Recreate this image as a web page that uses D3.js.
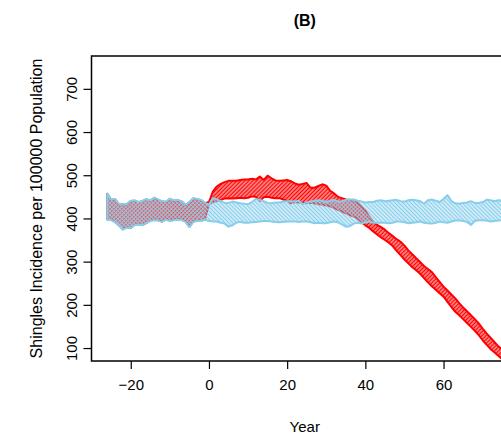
<!DOCTYPE html>
<html>
<head>
<meta charset="utf-8">
<script src="https://cdn.jsdelivr.net/npm/d3@7"></script>
<style>
  body { margin: 0; background: #fff; }
  svg text { font-family: "Liberation Sans", Arial, Helvetica, sans-serif; fill: #000; }
</style>
</head>
<body>
<svg id="chart" width="501" height="441"></svg>
<script>
  // data, one value per year from -26 to 75
  var YEARS = d3.range(-26, 76)

  var BLUE_HIGH = [
    458, 444, 445, 433, 433, 434, 441, 442, 438, 441, 445, 442, 448, 444, 440, 439, 446, 442, 443, 440, 432, 438, 447, 445, 443, 436, 432,
    447, 444, 440, 436, 436, 439, 437, 435, 434, 433, 438, 445, 443, 440, 436, 435, 437, 437, 439, 440, 440, 439, 441,
    433, 437, 439, 441, 442, 441, 438, 441, 443, 439, 440, 443, 444, 444, 441, 439, 437, 438, 438, 441, 442, 440, 441, 442, 443,
    440, 439, 442, 443, 442, 440, 434, 442, 444, 441, 438, 445, 454, 440, 435, 434, 436, 437, 440, 436, 436, 438, 443, 442, 440, 442, 441
  ]
  var BLUE_LOW = [
    397, 396, 391, 383, 374, 379, 377, 385, 386, 384, 389, 394, 396, 395, 392, 397, 394, 396, 397, 396, 392, 380, 392, 394, 394, 397, 394,
    393, 393, 390, 388, 381, 384, 390, 392, 390, 390, 391, 392, 393, 394, 394, 393, 392, 391, 392, 393, 393, 393, 392,
    393, 393, 391, 389, 390, 389, 389, 391, 393, 391, 386, 381, 382, 388, 390, 388, 391, 393, 390, 390, 390, 390, 389, 390, 393,
    393, 391, 389, 390, 391, 393, 390, 389, 388, 390, 393, 391, 390, 393, 395, 396, 394, 392, 385, 394, 396, 396, 395, 393, 394, 395, 396
  ]
  var RED_HIGH = [
    457, 443, 444, 432, 432, 433, 440, 441, 437, 440, 444, 441, 447, 443, 439, 438, 445, 441, 442, 439, 431, 437, 446, 444, 442, 435,
    438, 462, 474, 480, 484, 487, 487, 487, 489, 490, 490, 492, 490, 497, 489, 499, 493, 488, 487, 488, 489, 486, 481, 478, 480, 482, 471, 471, 475, 479,
    476, 464, 458, 450, 447, 444, 443, 441, 436, 428, 418, 404, 393, 385, 380, 374, 366, 359, 352, 346,
    337, 326, 317, 308, 299, 290, 283, 276, 264, 253, 242, 233, 224, 215, 204, 194, 185, 176, 167, 157,
    145, 134, 124, 114, 104, 96
  ]
  var RED_LOW = [
    398, 397, 392, 384, 375, 380, 378, 386, 387, 385, 390, 395, 397, 396, 393, 398, 395, 397, 398, 397, 393, 381, 393, 395, 395, 398,
    434, 438, 441, 443, 446, 447, 446, 447, 448, 447, 448, 451, 450, 440, 449, 450, 448, 447, 447, 444, 440, 435, 438, 437, 436,
    436, 436, 435, 433, 432, 430, 428, 424, 420, 416, 412, 408, 404, 400, 392, 384, 378, 370, 363, 356,
    350, 344, 336, 325, 315, 305, 296, 287, 280, 272, 262, 252, 243, 235, 227, 219, 207, 195, 184, 176,
    167, 158, 149, 140, 130, 118, 108, 98, 90, 82, 74
  ]

  var X_TICKS = [-20, 0, 20, 40, 60]
  var Y_TICKS = [100, 200, 300, 400, 500, 600, 700]

  // constants
  var RED = '#ff0000', BLUE = '#87ceeb'
  var PLOT = { left: 91.5, right: 518, top: 56, bottom: 361 }
  var FONT_SIZE = 15

  var svg = d3.select('#chart')

  var x = d3.scaleLinear().domain([-30.04, 79.04]).range([PLOT.left, PLOT.right])
  var y = d3.scaleLinear().domain([70, 776]).range([PLOT.bottom, PLOT.top])

  // hatch patterns, line centred in the tile so it is not cut in half
  var defs = svg.append('defs')
  function hatch (id, color, angle, gap, width) {
    defs.append('pattern')
      .attr('id', id)
      .attr('patternUnits', 'userSpaceOnUse')
      .attr('width', gap).attr('height', gap)
      .attr('patternTransform', 'rotate(' + angle + ')')
      .append('line')
      .attr('x1', gap / 2).attr('y1', -1).attr('x2', gap / 2).attr('y2', gap + 1)
      .attr('stroke', color)
      .attr('stroke-width', width)
  }
  hatch('hatch-red', RED, 45, 2.8, 1.9)
  hatch('hatch-blue', BLUE, -45, 2.8, 1.7)

  defs.append('clipPath').attr('id', 'plot-clip')
    .append('rect')
    .attr('x', PLOT.left).attr('y', PLOT.top)
    .attr('width', PLOT.right - PLOT.left).attr('height', PLOT.bottom - PLOT.top)

  function band (high, low) {
    var rows = YEARS.map(function (year, i) { return [year, low[i], high[i]] })
    return d3.area()
      .x(function (d) { return x(d[0]) })
      .y0(function (d) { return y(d[1]) })
      .y1(function (d) { return y(d[2]) })(rows)
  }

  var g = svg.append('g').attr('clip-path', 'url(#plot-clip)')
  g.append('path')
    .attr('d', band(RED_HIGH, RED_LOW))
    .attr('fill', 'url(#hatch-red)')
    .attr('stroke', RED)
    .attr('stroke-width', 2)
    .attr('stroke-linejoin', 'round')
  g.append('path')
    .attr('d', band(BLUE_HIGH, BLUE_LOW))
    .attr('fill', 'url(#hatch-blue)')
    .attr('stroke', BLUE)
    .attr('stroke-width', 2)
    .attr('stroke-linejoin', 'round')

  // box
  svg.append('rect')
    .attr('x', PLOT.left).attr('y', PLOT.top)
    .attr('width', PLOT.right - PLOT.left).attr('height', PLOT.bottom - PLOT.top)
    .attr('fill', 'none')
    .attr('stroke', '#000')
    .attr('stroke-width', 1.5)

  // axes
  var xAxis = svg.append('g')
    .attr('transform', 'translate(0,' + PLOT.bottom + ')')
    .call(d3.axisBottom(x).tickValues(X_TICKS).tickSize(8).tickPadding(10)
      .tickFormat(function (d) { return d < 0 ? '\u2212' + Math.abs(d) : d }))
  var yAxis = svg.append('g')
    .attr('transform', 'translate(' + PLOT.left + ',0)')
    .call(d3.axisLeft(y).tickValues(Y_TICKS).tickSize(8).tickPadding(6))

  ;[xAxis, yAxis].forEach(function (axis) {
    axis.select('.domain').remove()
    axis.selectAll('line').attr('stroke', '#000').attr('stroke-width', 1.2)
    axis.selectAll('text').attr('font-size', FONT_SIZE).attr('font-family', null)
  })

  // y tick labels run along the axis
  yAxis.selectAll('.tick text')
    .attr('transform', 'rotate(-90)')
    .attr('x', 0)
    .attr('y', -15)
    .attr('dy', 0)
    .attr('text-anchor', 'middle')

  // titles
  svg.append('text')
    .attr('x', (PLOT.left + PLOT.right) / 2).attr('y', 26)
    .attr('text-anchor', 'middle')
    .attr('font-size', 16).attr('font-weight', 'bold')
    .text('(B)')

  svg.append('text')
    .attr('x', (PLOT.left + PLOT.right) / 2).attr('y', 432)
    .attr('text-anchor', 'middle')
    .attr('font-size', FONT_SIZE)
    .text('Year')

  svg.append('text')
    .attr('transform', 'translate(42,' + (PLOT.top + PLOT.bottom) / 2 + ') rotate(-90)')
    .attr('text-anchor', 'middle')
    .attr('font-size', 16)
    .text('Shingles Incidence per 100000 Population')
</script>
</body>
</html>
